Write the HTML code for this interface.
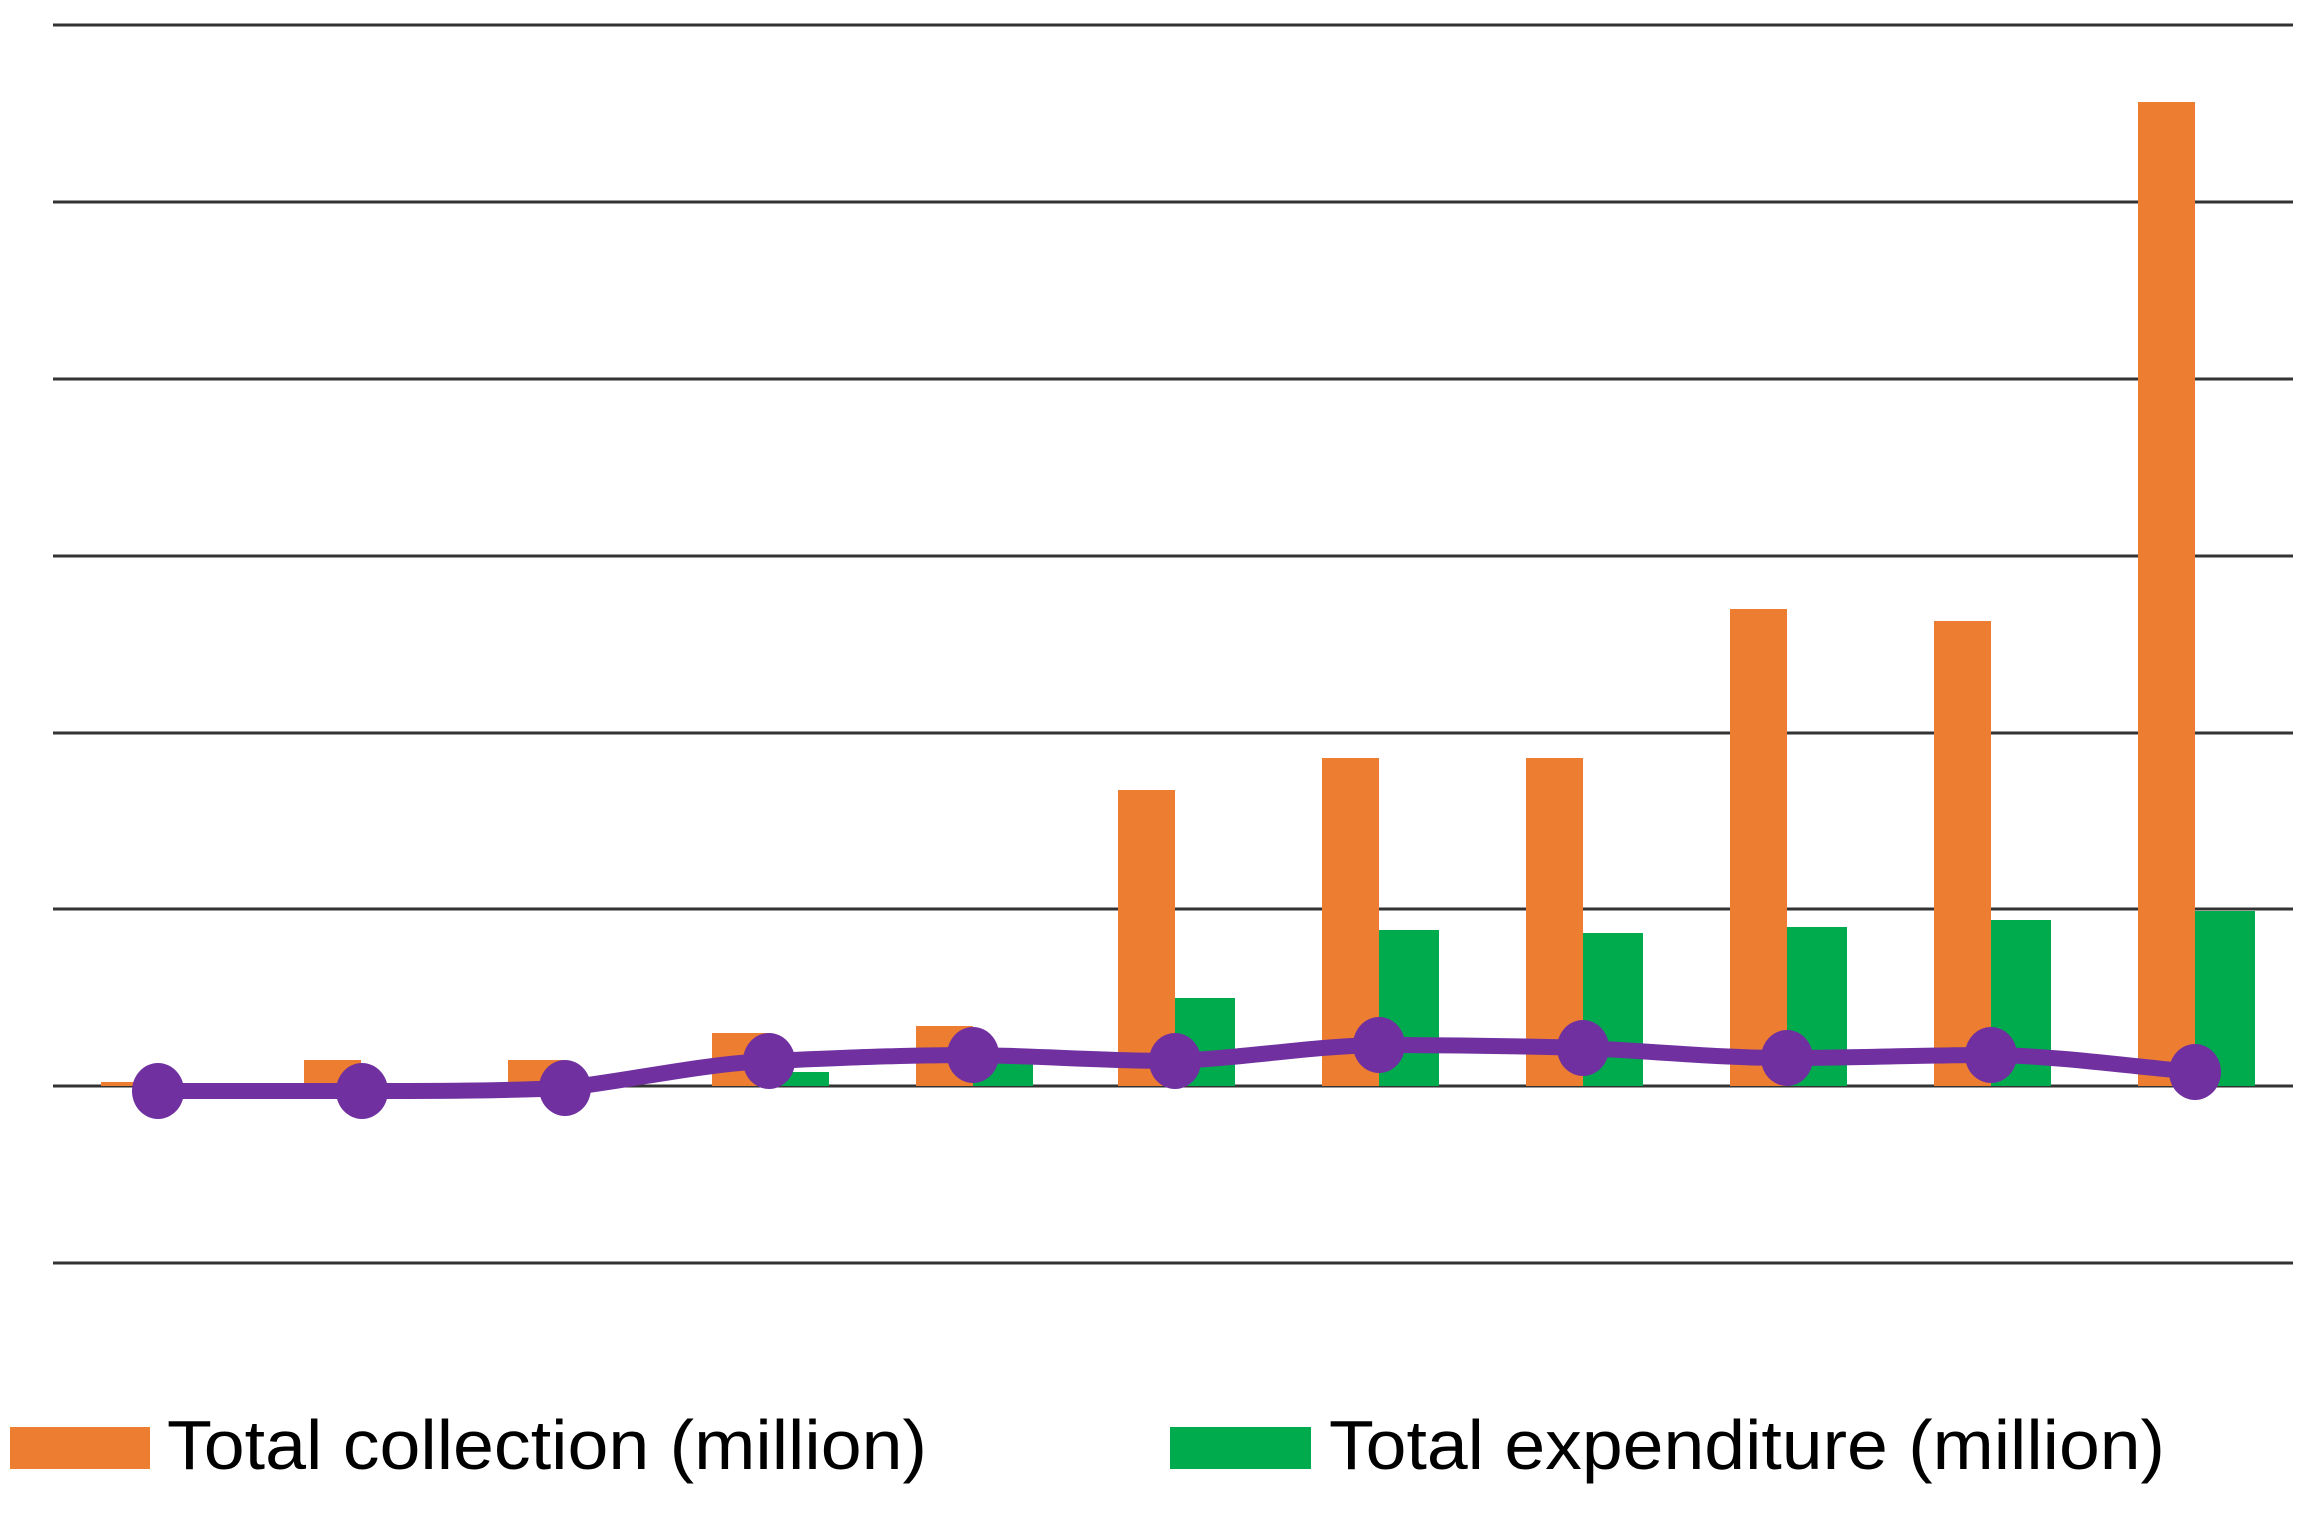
<!DOCTYPE html>
<html><head><meta charset="utf-8"><style>html,body{margin:0;padding:0;background:#fff}svg{display:block}</style></head>
<body>
<svg width="2311" height="1516" viewBox="0 0 2311 1516" xmlns="http://www.w3.org/2000/svg">
<g stroke="#333" stroke-width="3">
<line x1="53" y1="25" x2="2293" y2="25"/>
<line x1="53" y1="202" x2="2293" y2="202"/>
<line x1="53" y1="379" x2="2293" y2="379"/>
<line x1="53" y1="556" x2="2293" y2="556"/>
<line x1="53" y1="733" x2="2293" y2="733"/>
<line x1="53" y1="909" x2="2293" y2="909"/>
<line x1="53" y1="1086" x2="2293" y2="1086"/>
<line x1="53" y1="1263" x2="2293" y2="1263"/>
</g>
<g fill="#ED7D31">
<rect x="101" y="1082" width="57" height="4"/>
<rect x="304" y="1060" width="57" height="26"/>
<rect x="508" y="1060" width="57" height="26"/>
<rect x="712" y="1033" width="57" height="53"/>
<rect x="916" y="1026" width="57" height="60"/>
<rect x="1118" y="790" width="57" height="296"/>
<rect x="1322" y="758" width="57" height="328"/>
<rect x="1526" y="758" width="57" height="328"/>
<rect x="1730" y="609" width="57" height="477"/>
<rect x="1934" y="621" width="57" height="465"/>
<rect x="2138" y="102" width="57" height="984"/>
</g>
<g fill="#00AB4E">
<rect x="565" y="1084" width="60" height="2"/>
<rect x="769" y="1072" width="60" height="14"/>
<rect x="973" y="1050" width="60" height="36"/>
<rect x="1175" y="998" width="60" height="88"/>
<rect x="1379" y="930" width="60" height="156"/>
<rect x="1583" y="933" width="60" height="153"/>
<rect x="1787" y="927" width="60" height="159"/>
<rect x="1991" y="920" width="60" height="166"/>
<rect x="2195" y="911" width="60" height="175"/>
</g>
<path d="M158,1091 C226,1091 294,1091 362,1091 C430,1091 498,1091 565,1088 C633,1080 701,1064 769,1061 C837,1058 905,1055 973,1055 C1041,1056 1109,1061 1175,1061 C1245,1058 1313,1046 1379,1045 C1447,1045 1515,1046 1583,1048 C1651,1051 1719,1058 1787,1058 C1855,1058 1923,1055 1991,1055 C2059,1056 2127,1066 2195,1072" fill="none" stroke="#7030A0" stroke-width="16" stroke-linejoin="round"/>
<g fill="#7030A0">
<ellipse cx="158" cy="1091" rx="26" ry="28"/>
<ellipse cx="362" cy="1091" rx="26" ry="28"/>
<ellipse cx="565" cy="1088" rx="26" ry="28"/>
<ellipse cx="769" cy="1061" rx="26" ry="28"/>
<ellipse cx="973" cy="1055" rx="26" ry="28"/>
<ellipse cx="1175" cy="1061" rx="26" ry="28"/>
<ellipse cx="1379" cy="1045" rx="26" ry="28"/>
<ellipse cx="1583" cy="1048" rx="26" ry="28"/>
<ellipse cx="1787" cy="1058" rx="26" ry="28"/>
<ellipse cx="1991" cy="1055" rx="26" ry="28"/>
<ellipse cx="2195" cy="1072" rx="26" ry="28"/>
</g>
<rect x="10" y="1427" width="140" height="42" fill="#ED7D31"/>
<text x="167" y="1469" font-family="Liberation Sans, sans-serif" font-size="70" fill="#000" textLength="760" lengthAdjust="spacingAndGlyphs">Total collection (million)</text>
<rect x="1170" y="1427" width="141" height="42" fill="#00AB4E"/>
<text x="1329" y="1469" font-family="Liberation Sans, sans-serif" font-size="70" fill="#000" textLength="836" lengthAdjust="spacingAndGlyphs">Total expenditure (million)</text>
</svg>
</body></html>
